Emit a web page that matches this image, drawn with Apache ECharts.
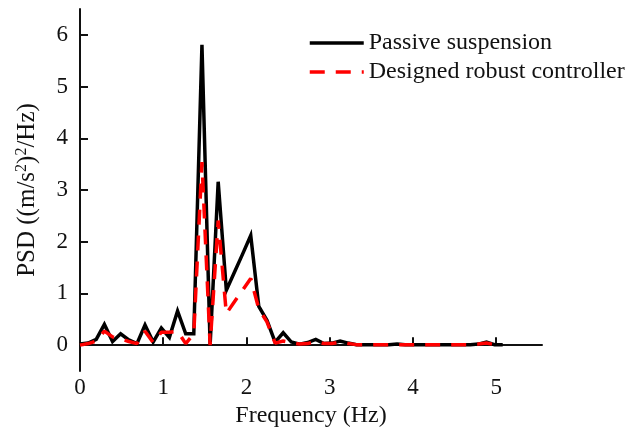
<!DOCTYPE html>
<html>
<head>
<meta charset="utf-8">
<script src="https://cdn.jsdelivr.net/npm/echarts@6/dist/echarts.min.js"></script>
<style>html,body{margin:0;padding:0;background:#fff;}#c{width:627px;height:440px;}</style>
</head>
<body>
<div id="c"></div>
<script>
// Frequency bins (Hz)
const freq = [0, 0.098, 0.195, 0.293, 0.391, 0.488, 0.586, 0.684, 0.781, 0.879,
  0.977, 1.074, 1.172, 1.270, 1.367, 1.465, 1.563, 1.660, 1.758, 1.855,
  1.953, 2.051, 2.148, 2.246, 2.344, 2.441, 2.539, 2.637, 2.734, 2.832,
  2.930, 3.027, 3.125, 3.223, 3.320, 3.418, 3.516, 3.613, 3.711, 3.809,
  3.906, 4.004, 4.102, 4.199, 4.297, 4.395, 4.492, 4.590, 4.688, 4.785,
  4.883, 4.980, 5.078];
// PSD values
const passive = [0.02, 0.04, 0.11, 0.40, 0.07, 0.22, 0.10, 0.03, 0.39, 0.06,
  0.33, 0.15, 0.66, 0.22, 0.22, 5.81, 0.00, 3.16, 1.06, 1.41,
  1.76, 2.12, 0.75, 0.48, 0.06, 0.24, 0.06, 0.02, 0.05, 0.11,
  0.03, 0.04, 0.08, 0.04, 0.01, 0.01, 0.01, 0.01, 0.01, 0.02,
  0.01, 0.01, 0.01, 0.01, 0.01, 0.01, 0.01, 0.01, 0.01, 0.02,
  0.06, 0.01, 0.01];
const robust = [0.00, 0.03, 0.08, 0.27, 0.16, 0.12, 0.07, 0.03, 0.27, 0.05,
  0.25, 0.25, 0.27, 0.03, 0.22, 3.54, 0.00, 2.41, 0.61, 0.84,
  1.06, 1.29, 0.70, 0.45, 0.04, 0.08, 0.05, 0.02, 0.03, 0.07,
  0.03, 0.03, 0.06, 0.03, 0.01, 0.01, 0.01, 0.01, 0.01, 0.01,
  0.01, 0.01, 0.01, 0.01, 0.01, 0.01, 0.01, 0.01, 0.01, 0.02,
  0.04, 0.01, 0.01];
const xTicks = [0, 1, 2, 3, 4, 5];
const yTicks = [0, 1, 2, 3, 4, 5, 6];
const seriesNames = ['Passive suspension', 'Designed robust controller'];

const FONT = 'Liberation Serif';
const chart = echarts.init(document.getElementById('c'), null, {renderer: 'canvas'});
chart.setOption({
  animation: false,
  backgroundColor: '#fff',
  grid: {left: 80, right: 85, top: 9, bottom: 69, containLabel: false},
  legend: {
    left: 308, top: 31, padding: 0, orient: 'vertical', itemWidth: 54, itemHeight: 14, itemGap: 5,
    data: seriesNames,
    itemStyle: {opacity: 0},
    lineStyle: {width: 3.5},
    textStyle: {fontFamily: FONT, fontSize: 24, color: '#111', lineHeight: 24}
  },
  xAxis: {
    type: 'value', min: 0, max: 5.55,
    name: 'Frequency (Hz)', nameLocation: 'middle', nameGap: 33,
    nameTextStyle: {fontFamily: FONT, fontSize: 24, color: '#111'},
    axisLine: {show: true, lineStyle: {color: '#111', width: 2}},
    axisTick: {show: true, inside: true, length: 8, lineStyle: {color: '#111', width: 2}, customValues: xTicks},
    axisLabel: {fontFamily: FONT, fontSize: 23, color: '#111', margin: 5, customValues: xTicks},
    splitLine: {show: false}
  },
  yAxis: {
    type: 'value', min: -0.5, max: 6.5,
    name: 'PSD ((m/s{sup|2})' + '{sup|2}/Hz)', nameLocation: 'middle', nameGap: 40,
    nameTextStyle: {
      fontFamily: FONT, fontSize: 25, color: '#111',
      rich: {sup: {fontFamily: FONT, fontSize: 16, color: '#111', padding: [0, 0, 10, 0]}}
    },
    axisLine: {show: true, lineStyle: {color: '#111', width: 2}},
    axisTick: {show: true, inside: true, length: 8, lineStyle: {color: '#111', width: 2}, customValues: yTicks},
    axisLabel: {fontFamily: FONT, fontSize: 23, color: '#111', margin: 12, customValues: yTicks},
    splitLine: {show: false}
  },
  series: [
    {
      name: seriesNames[0], type: 'line', symbol: 'none', z: 2,
      data: freq.map((f, i) => [f, passive[i]]),
      lineStyle: {color: '#000', width: 3.5, join: 'miter'},
      itemStyle: {color: '#000'}
    },
    {
      name: seriesNames[1], type: 'line', symbol: 'none', z: 3,
      data: freq.map((f, i) => [f, robust[i]]),
      lineStyle: {color: '#ff0000', width: 3.5, type: [15, 11]},
      itemStyle: {color: '#ff0000'}
    }
  ]
});
</script>
</body>
</html>
